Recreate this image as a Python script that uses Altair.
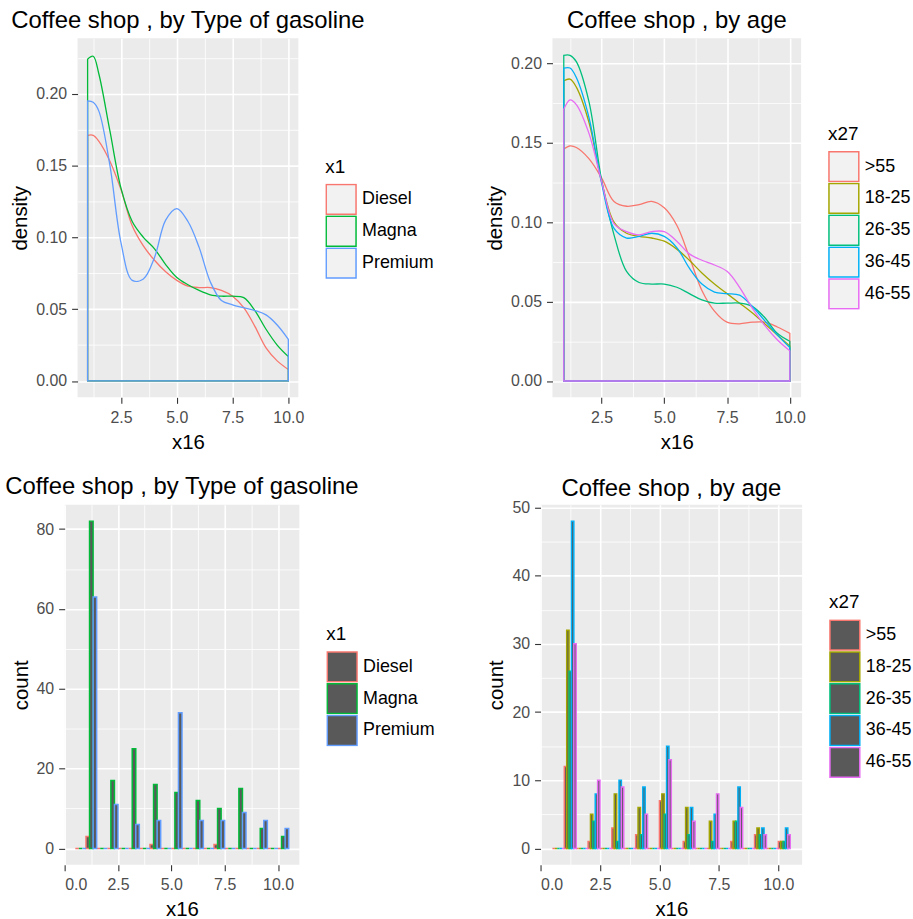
import altair as alt
import pandas as pd

FONT = "Liberation Sans"

# ---------------- density data (x16 grid and density values) -------------
dens_x = [1.0, 1.25, 1.5, 2.0, 2.5, 3.0, 3.5, 4.0, 4.5, 5.0, 5.5, 6.0, 6.5, 7.0, 7.5, 8.0, 8.5, 9.0, 9.5, 10.0]

gas_levels = ["Diesel", "Magna", "Premium"]
gas_colors = ["#F8766D", "#00BA38", "#619CFF"]
dens_diesel = [0.171, 0.171, 0.167, 0.153, 0.133, 0.108, 0.094, 0.084, 0.076, 0.070, 0.066, 0.065, 0.065, 0.063, 0.059, 0.051, 0.038, 0.023, 0.014, 0.008]
dens_magna = [0.224, 0.226, 0.214, 0.174, 0.134, 0.111, 0.100, 0.092, 0.081, 0.072, 0.067, 0.063, 0.060, 0.059, 0.059, 0.058, 0.049, 0.036, 0.025, 0.017]
dens_premium = [0.195, 0.194, 0.188, 0.150, 0.096, 0.070, 0.071, 0.086, 0.112, 0.120, 0.111, 0.093, 0.069, 0.056, 0.053, 0.051, 0.049, 0.046, 0.039, 0.029]

age_levels = [">55", "18-25", "26-35", "36-45", "46-55"]
age_colors = ["#F8766D", "#A3A500", "#00BF7D", "#00B0F6", "#E76BF3"]
dens_55plus = [0.146, 0.148, 0.147, 0.140, 0.128, 0.113, 0.110, 0.111, 0.113, 0.109, 0.098, 0.078, 0.057, 0.044, 0.037, 0.036, 0.037, 0.037, 0.034, 0.030]
dens_18_25 = [0.189, 0.190, 0.185, 0.163, 0.126, 0.100, 0.093, 0.091, 0.090, 0.088, 0.083, 0.076, 0.068, 0.061, 0.055, 0.049, 0.043, 0.036, 0.029, 0.022]
dens_26_35 = [0.205, 0.205, 0.201, 0.176, 0.127, 0.092, 0.069, 0.062, 0.061, 0.061, 0.059, 0.055, 0.051, 0.049, 0.049, 0.049, 0.047, 0.040, 0.030, 0.025]
dens_36_45 = [0.197, 0.197, 0.191, 0.166, 0.125, 0.096, 0.090, 0.091, 0.093, 0.091, 0.084, 0.071, 0.061, 0.056, 0.055, 0.054, 0.047, 0.038, 0.029, 0.021]
dens_46_55 = [0.171, 0.177, 0.174, 0.156, 0.126, 0.099, 0.094, 0.092, 0.094, 0.094, 0.088, 0.080, 0.076, 0.073, 0.069, 0.059, 0.046, 0.035, 0.026, 0.019]

# ---------------- histogram data (bins of width 0.5, counts per group) -------------
bin_starts = [0.5, 1.0, 1.5, 2.0, 2.5, 3.0, 3.5, 4.0, 4.5, 5.0, 5.5, 6.0, 6.5, 7.0, 7.5, 8.0, 8.5, 9.0, 9.5, 10.0]
bin_width = 0.5
cnt_diesel = [0, 3, 0, 0, 0, 0, 0, 1, 0, 0, 0, 0, 0, 1, 0, 0, 0, 0, 0, 0]
cnt_magna = [0, 82, 0, 17, 0, 25, 0, 16, 0, 14, 0, 12, 0, 10, 0, 15, 0, 5, 0, 3]
cnt_premium = [0, 63, 0, 11, 0, 6, 0, 7, 0, 34, 0, 7, 0, 7, 0, 9, 0, 7, 0, 5]

cnt_55plus = [0, 12, 0, 1, 0, 3, 0, 2, 0, 7, 0, 1, 0, 0, 0, 1, 0, 2, 0, 1]
cnt_18_25 = [0, 32, 0, 5, 0, 8, 0, 6, 0, 8, 0, 6, 0, 4, 0, 4, 0, 3, 0, 1]
cnt_26_35 = [0, 26, 0, 4, 0, 1, 0, 2, 0, 5, 0, 2, 0, 1, 0, 4, 0, 2, 0, 1]
cnt_36_45 = [0, 48, 0, 8, 0, 10, 0, 9, 0, 15, 0, 6, 0, 5, 0, 9, 0, 3, 0, 3]
cnt_46_55 = [0, 30, 0, 10, 0, 9, 0, 5, 0, 13, 0, 4, 0, 8, 0, 6, 0, 2, 0, 2]

TITLE_SIZE = 24
AX_TITLE = 20.5
TICK_LAB = 16
LEG_TITLE = 19
LEG_LAB = 18
PANEL = "#EBEBEB"


def x_axis_major(values, fmt):
    return alt.Axis(values=values, format=fmt, orient="bottom", grid=True, gridColor="white",
                    gridWidth=1.6, domain=False, tickColor="#333333", tickSize=6, tickWidth=1.1,
                    labelColor="#4D4D4D", labelFontSize=TICK_LAB, labelFont=FONT, labelPadding=6,
                    title="x16", titleFontSize=AX_TITLE, titleFont=FONT, titleColor="black",
                    titleFontWeight="normal", titlePadding=7)


def y_axis_major(values, fmt, title):
    return alt.Axis(values=values, format=fmt, orient="left", grid=True, gridColor="white",
                    gridWidth=1.6, domain=False, tickColor="#333333", tickSize=6, tickWidth=1.1,
                    labelColor="#4D4D4D", labelFontSize=TICK_LAB, labelFont=FONT, labelPadding=5,
                    title=title, titleFontSize=AX_TITLE, titleFont=FONT, titleColor="black",
                    titleFontWeight="normal", titlePadding=5)


def minor_axis(orient, values):
    return alt.Axis(values=values, orient=orient, grid=True, gridColor="white", gridWidth=0.8,
                    labels=False, ticks=False, domain=False, title=None, minExtent=0, maxExtent=0)


def legend(title, w, ky, fill):
    return alt.Legend(title=title, orient="none", legendX=w + 27, legendY=ky - 27,
                      symbolType="square", symbolSize=900, symbolStrokeWidth=1.5,
                      symbolFillColor=fill, symbolOpacity=1, clipHeight=32,
                      labelFontSize=LEG_LAB, labelFont=FONT, labelColor="black",
                      titleFontSize=LEG_TITLE, titleFont=FONT, titleColor="black",
                      titleFontWeight="normal", titlePadding=7, rowPadding=0, labelOffset=5)


def ttl(text, offset):
    return alt.TitleParams(text=text, fontSize=TITLE_SIZE, font=FONT, fontWeight="normal",
                           color="black", anchor="middle", offset=offset)


def density_panel(title, field, levels, colors, series, w, h, ydom, yvals, yminor, ky, toff):
    rows = []
    for lvl, vals in zip(levels, series):
        for xv, dv in zip(dens_x, vals):
            rows.append({"x16": xv, "density": dv, field: lvl})
    df = pd.DataFrame(rows)
    xs = alt.Scale(domain=[0.55, 10.45], nice=False, zero=False, padding=0)
    ys = alt.Scale(domain=ydom, nice=False, zero=False, padding=0)
    main = alt.Chart(df).mark_area(fill="#F2F2F2", fillOpacity=0, strokeWidth=1.3,
                                   interpolate="catmull-rom").encode(
        x=alt.X("x16:Q", scale=xs, axis=x_axis_major([2.5, 5.0, 7.5, 10.0], ".1f")),
        y=alt.Y("density:Q", scale=ys, stack=None, axis=y_axis_major(yvals, ".2f", "density")),
        stroke=alt.Stroke(f"{field}:N", scale=alt.Scale(domain=levels, range=colors),
                          sort=levels, legend=legend(field, w, ky, "#F2F2F2")),
    )
    minor = alt.Chart(df).mark_area(opacity=0).encode(
        x=alt.X("x16:Q", scale=xs, axis=minor_axis("top", [1.25, 3.75, 6.25, 8.75])),
        y=alt.Y("density:Q", scale=ys, stack=None, axis=minor_axis("right", yminor)),
    )
    return alt.layer(main, minor).resolve_axis(x="independent", y="independent").properties(
        width=w, height=h, title=ttl(title, toff), view=alt.ViewBackground(fill=PANEL, strokeWidth=0))


def hist_panel(title, field, levels, colors, counts, w, h, ydom, yvals, yminor, ky, toff):
    rows = []
    n = len(levels)
    sub = bin_width / n
    for gi, (lvl, cnts) in enumerate(zip(levels, counts)):
        for b0, c in zip(bin_starts, cnts):
            x0 = b0 + gi * sub
            rows.append({"xmin": x0, "xmax": x0 + sub, "count": c, "base": 0, field: lvl})
    df = pd.DataFrame(rows)
    xs = alt.Scale(domain=[0.0, 11.0], nice=False, zero=False, padding=0)
    ys = alt.Scale(domain=ydom, nice=False, zero=False, padding=0)
    main = alt.Chart(df).mark_rect(fill="#595959", strokeWidth=1.5, fillOpacity=1).encode(
        x=alt.X("xmin:Q", scale=xs, axis=x_axis_major([0.0, 2.5, 5.0, 7.5, 10.0], ".1f")),
        x2="xmax:Q",
        y=alt.Y("count:Q", scale=ys, stack=None, axis=y_axis_major(yvals, "d", "count")),
        y2="base:Q",
        stroke=alt.Stroke(f"{field}:N", scale=alt.Scale(domain=levels, range=colors),
                          sort=levels, legend=legend(field, w, ky, "#595959")),
    )
    minor = alt.Chart(df).mark_rect(opacity=0).encode(
        x=alt.X("xmin:Q", scale=xs, axis=minor_axis("top", [1.25, 3.75, 6.25, 8.75])),
        x2="xmax:Q",
        y=alt.Y("count:Q", scale=ys, stack=None, axis=minor_axis("right", yminor)),
        y2="base:Q",
    )
    return alt.layer(main, minor).resolve_axis(x="independent", y="independent").properties(
        width=w, height=h, title=ttl(title, toff), view=alt.ViewBackground(fill=PANEL, strokeWidth=0))


def spacer(w):
    # empty, invisible view used only to offset a row's first panel
    return alt.Chart(pd.DataFrame({"v": [0]})).mark_point(size=0, opacity=0).encode(
        x=alt.value(0), y=alt.value(0)
    ).properties(width=w, height=1, view=alt.ViewBackground(fill="white", strokeWidth=0))


p1 = density_panel("Coffee shop , by Type of gasoline", "x1", gas_levels, gas_colors,
                   [dens_diesel, dens_magna, dens_premium], 222, 361,
                   [-0.0114, 0.2385], [0.0, 0.05, 0.10, 0.15, 0.20],
                   [0.025, 0.075, 0.125, 0.175, 0.225], 147, 5.5)
p2 = density_panel("Coffee shop , by age", "x27", age_levels, age_colors,
                   [dens_55plus, dens_18_25, dens_26_35, dens_36_45, dens_46_55], 250, 361,
                   [-0.0103, 0.2157], [0.0, 0.05, 0.10, 0.15, 0.20],
                   [0.025, 0.075, 0.125, 0.175], 114, 5.5)
p3 = hist_panel("Coffee shop , by Type of gasoline", "x1", gas_levels, gas_colors,
                [cnt_diesel, cnt_magna, cnt_premium], 236, 362,
                [-4.1, 86.1], [0, 20, 40, 60, 80], [10, 30, 50, 70], 148, 5.5)
p4 = hist_panel("Coffee shop , by age", "x27", age_levels, age_colors,
                [cnt_55plus, cnt_18_25, cnt_26_35, cnt_36_45, cnt_46_55], 263, 362,
                [-2.4, 50.4], [0, 10, 20, 30, 40, 50], [5, 15, 25, 35, 45], 116, -1.5)

RES = dict(stroke="independent", x="independent", y="independent")

top_row = alt.hconcat(
    alt.hconcat(spacer(10), p1, spacing=0).resolve_scale(**RES), p2, spacing=50.5
).resolve_scale(**RES)
bottom_row = alt.hconcat(
    alt.hconcat(spacer(5), p3, spacing=0).resolve_scale(**RES), p4, spacing=51.5
).resolve_scale(**RES)

chart = alt.concat(
    top_row, bottom_row, columns=1, spacing=22, align="none",
).resolve_scale(**RES).properties(
    padding={"left": 0, "top": 6, "right": 0, "bottom": 0},
    background="white",
).configure(font=FONT).configure_view(strokeWidth=0)

chart.save("out.html", embed_options={"renderer": "svg", "actions": False})
